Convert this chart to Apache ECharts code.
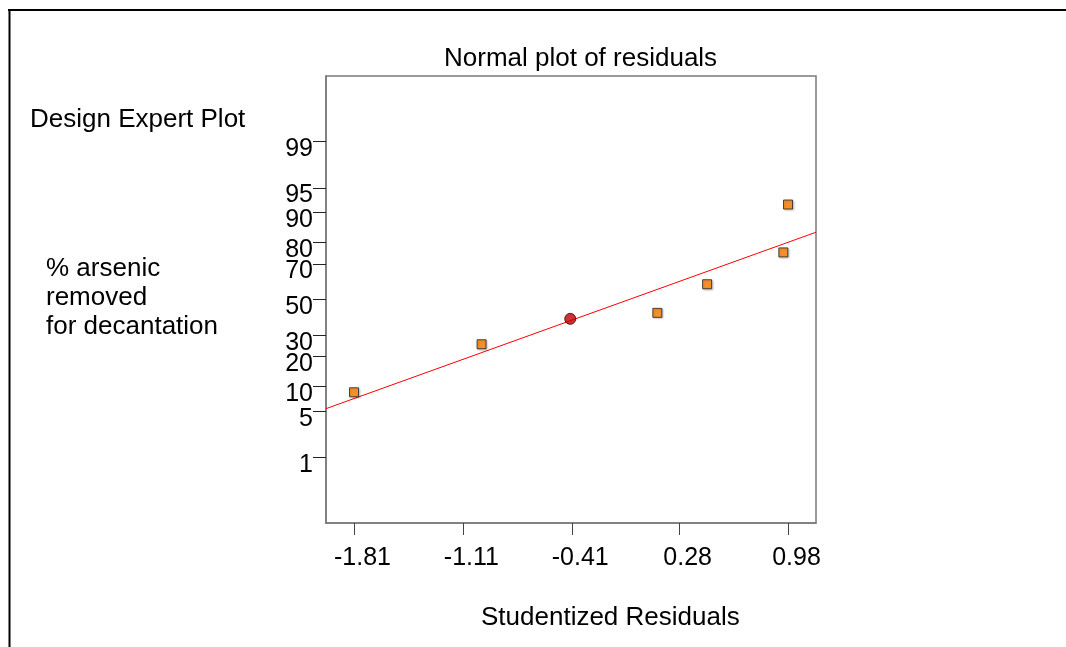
<!DOCTYPE html>
<html><head><meta charset="utf-8">
<script src="https://cdn.jsdelivr.net/npm/echarts@6/dist/echarts.min.js"></script>
<style>html,body{margin:0;padding:0;background:#fff}#c{width:1066px;height:647px}</style>
</head><body><div id="c"></div>
<script>
// ---- data ----
var residuals = [-1.81, -0.99, -0.42, 0.14, 0.46, 0.95, 0.98];
var probPct   = [8.6, 25.5, 38.8, 42.2, 58.9, 75.6, 91.9];
var highlightIndex = 2;
var xTickValues = [-1.81, -1.11, -0.41, 0.28, 0.98];
var xTickLabels = ['-1.81', '-1.11', '-0.41', '0.28', '0.98'];
var yTickPct = [1, 5, 10, 20, 30, 50, 70, 80, 90, 95, 99];
var fitLineX = [-1.99, 1.16];
var fitLinePct = [5.4, 83.9];
var xRange = [-1.99, 1.16];
var yRangePct = [0.05, 99.95];

// inverse normal CDF (Acklam)
function probit(p){
  var a=[-3.969683028665376e+01,2.209460984245205e+02,-2.759285104469687e+02,1.383577518672690e+02,-3.066479806614716e+01,2.506628277459239e+00];
  var b=[-5.447609879822406e+01,1.615858368580409e+02,-1.556989798598866e+02,6.680131188771972e+01,-1.328068155288572e+01];
  var c=[-7.784894002430293e-03,-3.223964580411365e-01,-2.400758277161838e+00,-2.549732539343734e+00,4.374664141464968e+00,2.938163982698783e+00];
  var d=[7.784695709041462e-03,3.224671290700398e-01,2.445134137142996e+00,3.754408661907416e+00];
  var pl=0.02425,ph=1-pl,q,r;
  if(p<pl){q=Math.sqrt(-2*Math.log(p));return (((((c[0]*q+c[1])*q+c[2])*q+c[3])*q+c[4])*q+c[5])/((((d[0]*q+d[1])*q+d[2])*q+d[3])*q+1);}
  if(p<=ph){q=p-0.5;r=q*q;return (((((a[0]*r+a[1])*r+a[2])*r+a[3])*r+a[4])*r+a[5])*q/(((((b[0]*r+b[1])*r+b[2])*r+b[3])*r+b[4])*r+1);}
  q=Math.sqrt(-2*Math.log(1-p));return -(((((c[0]*q+c[1])*q+c[2])*q+c[3])*q+c[4])*q+c[5])/((((d[0]*q+d[1])*q+d[2])*q+d[3])*q+1);
}
function z(pct){return probit(pct/100);}

var yTickZ = yTickPct.map(z);
var squares = [], circle = [];
residuals.forEach(function(x,i){
  var pt=[x, z(probPct[i])];
  if(i===highlightIndex) circle.push(pt); else squares.push(pt);
});
var linePts = fitLineX.map(function(x,i){return [x, z(fitLinePct[i])];});

var FONT = 'Liberation Sans, Arial, sans-serif';
var chart = echarts.init(document.getElementById('c'), null, {renderer:'canvas'});
chart.setOption({
  animation:false,
  backgroundColor:'#fff',
  grid:{left:326, top:76, width:490, height:447, show:true, borderColor:'#7a7a7a', borderWidth:1.5, backgroundColor:'transparent'},
  xAxis:{
    type:'value', min:xRange[0], max:xRange[1],
    axisLine:{show:true, onZero:false, lineStyle:{color:'#7a7a7a', width:1.5}}, splitLine:{show:false},
    axisTick:{show:true, length:12, lineStyle:{color:'#444', width:1}, customValues:xTickValues},
    axisLabel:{show:true, customValues:xTickValues, color:'#000', fontFamily:FONT, fontSize:25, margin:23, padding:[0,0,0,17],
      formatter:function(v){var k=0,best=1e9;xTickValues.forEach(function(t,i){if(Math.abs(t-v)<best){best=Math.abs(t-v);k=i;}});return xTickLabels[k];}}
  },
  yAxis:{
    type:'value', min:z(yRangePct[0]), max:z(yRangePct[1]),
    axisLine:{show:true, onZero:false, lineStyle:{color:'#7a7a7a', width:1.5}}, splitLine:{show:false},
    axisTick:{show:true, length:13, lineStyle:{color:'#222', width:1}, customValues:yTickZ},
    axisLabel:{show:true, customValues:yTickZ, color:'#000', fontFamily:FONT, fontSize:25, margin:13, verticalAlign:'top', lineHeight:15,
      formatter:function(v){var k=0,best=1e9;yTickZ.forEach(function(t,i){if(Math.abs(t-v)<best){best=Math.abs(t-v);k=i;}});return String(yTickPct[k]);}}
  },
  series:[
    {type:'line', data:linePts, symbol:'none', lineStyle:{color:'#ff0000', width:1}, silent:true, z:2},
    {type:'scatter', data:squares, symbol:'rect', symbolSize:9,
      itemStyle:{color:'#ff8000', borderColor:'#222', borderWidth:1, shadowColor:'rgba(0,0,0,0.25)', shadowBlur:2, shadowOffsetX:1, shadowOffsetY:1}, z:3},
    {type:'scatter', data:circle, symbol:'circle', symbolSize:11,
      itemStyle:{color:'#c00000', borderColor:'#300', borderWidth:1}, z:4}
  ],
  graphic:[
    {type:'line', shape:{x1:8, y1:10, x2:1066, y2:10}, style:{stroke:'#000', lineWidth:2}},
    {type:'line', shape:{x1:9.5, y1:9, x2:9.5, y2:647}, style:{stroke:'#000', lineWidth:2}},
    {type:'text', left:444, top:46, style:{text:'Normal plot of residuals', font:'26px '+FONT, fill:'#000'}},
    {type:'text', left:30, top:107, style:{text:'Design Expert Plot', font:'26px '+FONT, fill:'#000'}},
    {type:'text', left:46, top:254, style:{text:'% arsenic\nremoved\nfor decantation', font:'26px '+FONT, fill:'#000', lineHeight:29}},
    {type:'text', left:481, top:605, style:{text:'Studentized Residuals', font:'26px '+FONT, fill:'#000'}}
  ]
});
</script></body></html>
